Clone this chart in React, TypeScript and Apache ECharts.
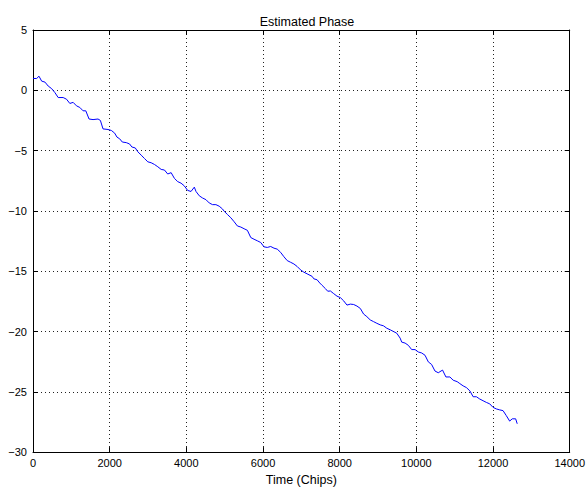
import React, { useEffect, useRef } from "react";
import * as echarts from "echarts";

const timeChips = [
  0, 96, 156, 226, 312, 397, 486, 571, 657, 787, 875, 961, 1047, 1135, 1221, 1306, 1377, 1462, 1566, 1696,
  1758, 1826, 1956, 2044, 2130, 2190, 2260, 2330, 2434, 2519, 2579, 2668, 2735, 2823, 2909, 2995, 3083, 3169,
  3255, 3343, 3429, 3514, 3603, 3688, 3774, 3862, 3948, 4034, 4122, 4208, 4252, 4338, 4423, 4512, 4597, 4683,
  4771, 4857, 4943, 4987, 5073, 5161, 5247, 5332, 5421, 5506, 5592, 5681, 5766, 5852, 5940, 6026, 6112, 6200,
  6286, 6371, 6460, 6545, 6631, 6719, 6805, 6891, 6979, 7065, 7151, 7281, 7325, 7410, 7481, 7540, 7629, 7688,
  7758, 7844, 7930, 8018, 8104, 8190, 8278, 8364, 8450, 8538, 8623, 8709, 8797, 8883, 8969, 9057, 9143, 9229,
  9317, 9403, 9488, 9577, 9618, 9706, 9792, 9878, 9966, 10052, 10138, 10226, 10312, 10397, 10486, 10571, 10683,
  10771, 10875, 10961, 11065, 11135, 11221, 11306, 11395, 11481, 11566, 11654, 11740, 11826, 11914, 12000,
  12086, 12174, 12260, 12345, 12434, 12501, 12590, 12631,
];

const phase = [
  0.98, 0.98, 1.17, 0.76, 0.68, 0.35, 0.14, -0.19, -0.6, -0.6, -0.74, -1.09, -1.0, -1.29, -1.42, -1.7, -1.7,
  -2.38, -2.43, -2.38, -2.5, -3.2, -3.25, -3.33, -3.55, -3.88, -4.02, -4.29, -4.34, -4.45, -4.7, -4.78, -5.1,
  -5.38, -5.66, -5.93, -6.01, -6.15, -6.34, -6.56, -6.61, -6.94, -6.83, -7.3, -7.57, -7.7, -7.93, -8.3, -8.39,
  -8.03, -8.39, -8.75, -8.93, -9.07, -9.34, -9.48, -9.48, -9.61, -9.84, -10.03, -10.3, -10.57, -10.9, -11.25,
  -11.34, -11.48, -11.61, -12.21, -12.35, -12.48, -12.62, -12.98, -13.03, -12.95, -13.09, -13.17, -13.44,
  -13.8, -14.12, -14.26, -14.4, -14.61, -14.89, -15.08, -15.22, -15.43, -15.63, -15.71, -15.98, -16.17, -16.45,
  -16.66, -16.64, -16.86, -17.07, -17.19, -17.46, -17.81, -17.73, -17.76, -17.89, -18.09, -18.55, -18.77,
  -19.04, -19.18, -19.32, -19.45, -19.53, -19.73, -19.86, -20.0, -20.14, -20.55, -20.88, -20.96, -21.15, -21.5,
  -21.5, -21.7, -21.78, -21.97, -22.52, -22.73, -23.28, -23.42, -23.2, -23.77, -23.77, -24.04, -24.16, -24.32,
  -24.51, -24.65, -24.92, -25.41, -25.41, -25.6, -25.74, -25.88, -26.0, -26.29, -26.42, -26.5, -26.56, -26.97,
  -27.43, -27.24, -27.24, -27.65,
];

const titleText = "Estimated Phase";
const xAxisTitle = "Time (Chips)";
const xMin = 0;
const xMax = 14000;
const xStep = 2000;
const yMin = -30;
const yMax = 5;
const yStep = 5;

const FONT = "'Liberation Sans', Arial, Helvetica, sans-serif";

export default function App() {
  const ref = useRef<HTMLDivElement>(null);

  useEffect(() => {
    if (!ref.current) return;
    const chart = echarts.init(ref.current, undefined, { renderer: "svg", width: 588, height: 491 });
    const minus = (v: number) => String(v).replace("-", "\u2212");
    const plain = (v: number) => String(v);
    const gridLine = { show: true, lineStyle: { color: "#222", width: 1, type: [1, 3] as any } };
    const axisLine = { show: true, onZero: false, lineStyle: { color: "#000", width: 1 } };
    const tick = { show: true, inside: true, length: 5, lineStyle: { color: "#000" } };
    chart.setOption({
      animation: false,
      backgroundColor: "#fff",
      textStyle: { fontFamily: FONT },
      title: {
        text: titleText,
        left: 302,
        textAlign: "center",
        top: 10,
        textStyle: { fontSize: 12.5, fontWeight: "normal", color: "#000", fontFamily: FONT },
      },
      grid: { left: 33, right: 16, top: 30, bottom: 34, containLabel: false },
      xAxis: [
        {
          type: "value",
          min: xMin,
          max: xMax,
          interval: xStep,
          position: "bottom",
          name: xAxisTitle,
          nameLocation: "middle",
          nameGap: 18,
          nameTextStyle: { fontSize: 12.5, color: "#000", fontFamily: FONT },
          axisLine,
          axisTick: tick,
          axisLabel: { color: "#000", fontSize: 11, margin: 5, fontFamily: FONT, formatter: plain },
          splitLine: gridLine,
        },
        {
          type: "value",
          min: xMin,
          max: xMax,
          interval: xStep,
          position: "top",
          axisLine,
          axisTick: tick,
          axisLabel: { show: false },
          splitLine: { show: false },
        },
      ],
      yAxis: [
        {
          type: "value",
          min: yMin,
          max: yMax,
          interval: yStep,
          position: "left",
          axisLine,
          axisTick: tick,
          axisLabel: { color: "#000", fontSize: 11, margin: 6, fontFamily: FONT, formatter: minus },
          splitLine: gridLine,
        },
        {
          type: "value",
          min: yMin,
          max: yMax,
          interval: yStep,
          position: "right",
          axisLine,
          axisTick: tick,
          axisLabel: { show: false },
          splitLine: { show: false },
        },
      ],
      series: [
        {
          type: "line",
          data: timeChips.map((t, i) => [t, phase[i]]),
          showSymbol: false,
          symbol: "none",
          lineStyle: { color: "#0000ff", width: 1 },
          xAxisIndex: 0,
          yAxisIndex: 0,
        },
      ],
    });
    return () => chart.dispose();
  }, []);

  return (
    <div
      ref={ref}
      style={{ position: "fixed", left: 0, top: 0, width: 588, height: 491, background: "#fff" }}
    />
  );
}
